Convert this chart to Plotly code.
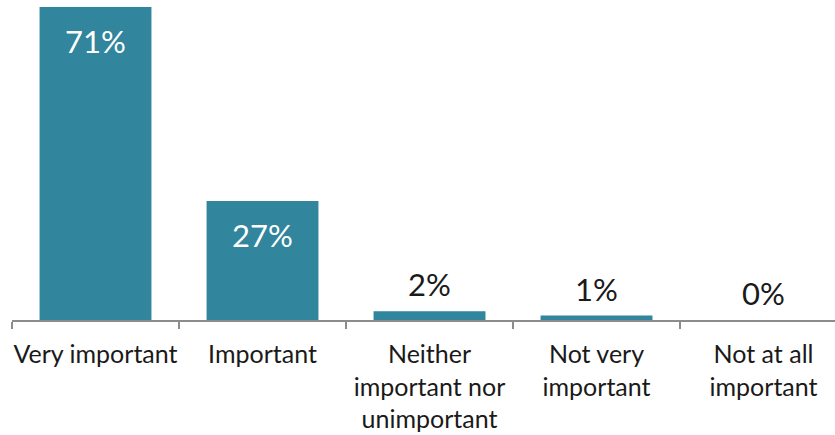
import plotly.graph_objects as go

categories = ["Very important", "Important", "Neither<br>important nor<br>unimportant",
              "Not very<br>important", "Not at all<br>important"]
values = [71, 27, 2, 1, 0]
value_labels = ["71%", "27%", "2%", "1%", "0%"]

BAR_COLOR = "#31859C"
AXIS_COLOR = "#8c8c8c"
FONT = "Lato"

fig = go.Figure(
    go.Bar(
        x=categories,
        y=values,
        width=0.67,
        marker=dict(color=BAR_COLOR, line=dict(width=0)),
        hoverinfo="skip",
    )
)

# value labels: white inside the tall bars, dark above the short ones
annotations = []
for cat, v, lab in zip(categories, values, value_labels):
    inside = v >= 10
    annotations.append(dict(
        x=cat, y=v, xref="x", yref="y",
        text=lab, showarrow=False,
        yanchor="middle",
        yshift=-34 if inside else 27,
        font=dict(family=FONT, size=31, color="white" if inside else "#1a1a1a"),
    ))

fig.update_layout(
    width=835, height=435,
    margin=dict(l=12, r=0, t=7, b=115),
    paper_bgcolor="white", plot_bgcolor="white",
    showlegend=False,
    annotations=annotations,
    xaxis=dict(
        type="category",
        range=[-0.5, 4.428],
        showline=True, linecolor=AXIS_COLOR, linewidth=2,
        ticks="outside", tickson="boundaries", ticklen=7,
        tickcolor=AXIS_COLOR, tickwidth=2,
        ticklabelstandoff=11,
        showgrid=False, zeroline=False,
        tickfont=dict(family=FONT, size=25, color="#1a1a1a"),
        tickangle=0,
    ),
    yaxis=dict(
        range=[0, 71], visible=False, showgrid=False, zeroline=False,
    ),
)

fig.write_html("out.html")
